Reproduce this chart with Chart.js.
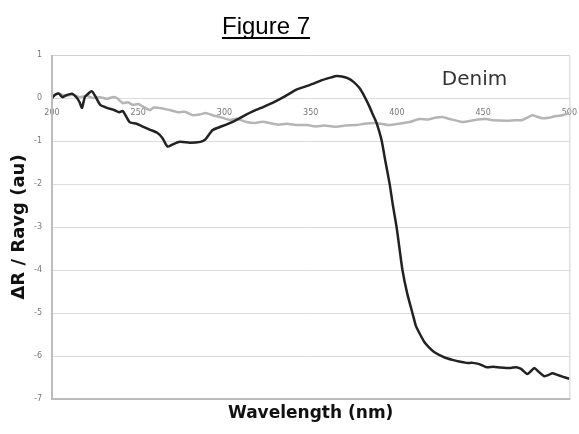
<!DOCTYPE html>
<html lang="en">
<head>
  <meta charset="UTF-8">
  <title>Figure 7</title>
  <script src="https://cdn.jsdelivr.net/npm/chart.js"></script>
  <style>
    body {
      margin: 0;
      background: #fff;
    }
    canvas {
      display: block;
    }
  </style>
</head>
<body>
  <canvas id="denimChart" width="579" height="434"></canvas>

  <script>
    // Dark trace
    const darkWl = [200, 202, 204, 206, 208, 211.6, 214.5, 216, 217.4, 219, 221, 223, 225, 228, 232, 236, 239, 241, 245, 249,
      253, 257, 261, 264, 267, 270, 274, 280, 286, 289, 293, 297, 301, 306, 311, 317, 323, 329, 336, 342,
      349.4, 357, 362, 365, 368, 371.4, 375, 378.3, 381, 384.1, 386, 388.2, 391.1, 393, 395.7, 397.7, 399.8, 401.5, 403.2, 406,
      409, 411, 413.1, 416, 418.9, 422, 424.7, 428, 432.2, 436, 440.3, 444, 447.8, 451.9, 456, 460, 463.5, 467, 469.2, 472,
      475.6, 477.5, 479.7, 482, 485.5, 488, 490.1, 493, 496, 500];
    const darkVal = [0.0, 0.08, 0.1, 0.02, 0.06, 0.1, 0.0, -0.1, -0.23, 0.02, 0.1, 0.16, 0.05, -0.16, -0.23, -0.28, -0.33, -0.3, -0.56, -0.6,
      -0.67, -0.74, -0.81, -0.93, -1.13, -1.08, -1.02, -1.04, -1.02, -0.96, -0.75, -0.68, -0.62, -0.53, -0.42, -0.30, -0.2, -0.09, 0.06, 0.2,
      0.3, 0.42, 0.48, 0.51, 0.5, 0.46, 0.37, 0.23, 0.05, -0.2, -0.38, -0.58, -0.98, -1.4, -1.98, -2.5, -3.0, -3.5, -4.0, -4.55,
      -5.0, -5.3, -5.47, -5.68, -5.81, -5.92, -5.98, -6.04, -6.09, -6.13, -6.16, -6.16, -6.19, -6.26, -6.25, -6.27, -6.28, -6.27, -6.26, -6.3,
      -6.42, -6.36, -6.28, -6.36, -6.47, -6.44, -6.4, -6.44, -6.48, -6.53];

    // Light trace
    const lightWl = [200, 204, 208, 212, 216, 220, 223.7, 228, 231.8, 235, 237.6, 241.1, 244, 246.9, 250, 252.7, 256.7, 259, 262.5, 266,
      268.3, 273, 277, 281.6, 286, 289, 293.2, 298, 303.1, 307, 312.9, 318, 322, 326.2, 331, 336, 342.4, 348, 353, 358,
      365, 370, 376.6, 381, 387, 391, 395.7, 401, 407.3, 413.1, 418, 422, 426.4, 430.5, 434, 438, 443, 447, 451.9, 456,
      463.5, 468, 472.7, 476, 478.5, 481, 484.3, 488, 492.4, 496, 500];
    const lightVal = [0.05, 0.1, 0.05, 0.08, 0.02, 0.05, 0.0, 0.02, -0.02, 0.02, 0.0, -0.12, -0.1, -0.16, -0.14, -0.2, -0.28, -0.22, -0.23, -0.26,
      -0.28, -0.33, -0.32, -0.4, -0.38, -0.35, -0.4, -0.45, -0.51, -0.48, -0.56, -0.58, -0.55, -0.58, -0.62, -0.6, -0.63, -0.63, -0.66, -0.64,
      -0.67, -0.64, -0.63, -0.6, -0.58, -0.6, -0.63, -0.6, -0.56, -0.49, -0.5, -0.46, -0.44, -0.49, -0.52, -0.56, -0.53, -0.5, -0.49, -0.52,
      -0.53, -0.52, -0.51, -0.45, -0.4, -0.43, -0.47, -0.46, -0.42, -0.4, -0.35];

    const xTicks = [200, 250, 300, 350, 400, 450, 500];
    const yTicks = [1, 0, -1, -2, -3, -4, -5, -6, -7];

    const toPoints = (xs, ys) => xs.map((x, i) => ({ x: x, y: ys[i] }));

    // box around the plot area, heavier on the left and bottom
    const frame = {
      id: 'frame',
      afterDatasetsDraw(chart) {
        const { ctx, chartArea: a } = chart;
        ctx.save();
        ctx.strokeStyle = '#d0d0d0';
        ctx.lineWidth = 1;
        ctx.beginPath();
        ctx.moveTo(a.left, a.top + 0.5);
        ctx.lineTo(a.right + 0.5, a.top + 0.5);
        ctx.lineTo(a.right + 0.5, a.bottom);
        ctx.stroke();
        ctx.strokeStyle = '#bcbcbc';
        ctx.lineWidth = 2;
        ctx.beginPath();
        ctx.moveTo(a.left, a.top);
        ctx.lineTo(a.left, a.bottom);
        ctx.lineTo(a.right + 1, a.bottom);
        ctx.stroke();
        ctx.restore();
      }
    };

    // heading, axis caption and the "Denim" label
    const texts = {
      id: 'texts',
      afterDraw(chart) {
        const { ctx, chartArea: a, scales } = chart;
        ctx.save();
        ctx.fillStyle = '#000';
        ctx.font = '24px "Liberation Sans", Arial, sans-serif';
        ctx.textAlign = 'center';
        ctx.textBaseline = 'alphabetic';
        const head = 'Figure 7';
        const hx = 266;
        ctx.fillText(head, hx, 34);
        const w = ctx.measureText(head).width;
        ctx.fillRect(hx - w / 2, 37, w, 2);

        ctx.font = 'bold 17px "DejaVu Sans", Verdana, sans-serif';
        ctx.fillStyle = '#111';
        ctx.textBaseline = 'middle';
        ctx.fillText('Wavelength (nm)', (a.left + a.right) / 2, 414);

        ctx.font = '20px "DejaVu Sans", Verdana, sans-serif';
        ctx.fillStyle = '#333';
        ctx.fillText('Denim', scales.x.getPixelForValue(445), scales.y.getPixelForValue(0.42));
        ctx.restore();
      }
    };

    new Chart(document.getElementById('denimChart'), {
      type: 'line',
      data: {
        datasets: [{
          label: 'dark',
          data: toPoints(darkWl, darkVal),
          borderColor: '#222',
          borderWidth: 2.5,
          pointRadius: 0,
          tension: 0.2
        }, {
          label: 'light',
          data: toPoints(lightWl, lightVal),
          borderColor: '#b5b5b5',
          borderWidth: 2.5,
          pointRadius: 0,
          tension: 0.2
        }]
      },
      options: {
        responsive: false,
        animation: false,
        layout: { padding: { top: 55, bottom: 35, left: 0, right: 9 } },
        plugins: {
          legend: { display: false },
          tooltip: { enabled: false }
        },
        scales: {
          x: {
            type: 'linear',
            min: 200,
            max: 500,
            position: { y: 0 },
            afterBuildTicks: (scale) => { scale.ticks = xTicks.map(v => ({ value: v })); },
            ticks: {
              font: { size: 8, family: '"DejaVu Sans", Verdana, sans-serif' },
              color: '#777',
              padding: 2,
              maxRotation: 0
            },
            grid: { display: false },
            border: { display: false }
          },
          y: {
            min: -7,
            max: 1,
            afterBuildTicks: (scale) => { scale.ticks = yTicks.map(v => ({ value: v })); },
            afterFit: (scale) => { scale.width = 52; },
            ticks: {
              font: { size: 8, family: '"DejaVu Sans", Verdana, sans-serif' },
              color: '#777',
              padding: 10
            },
            grid: { color: '#dcdcdc', lineWidth: 1, drawTicks: false },
            border: { display: false },
            title: {
              display: true,
              text: 'ΔR / Ravg (au)',
              color: '#111',
              font: { size: 18, weight: 'bold', family: '"DejaVu Sans", Verdana, sans-serif' },
              padding: { top: 9, bottom: 0 }
            }
          }
        }
      },
      plugins: [frame, texts]
    });
  </script>
</body>
</html>
